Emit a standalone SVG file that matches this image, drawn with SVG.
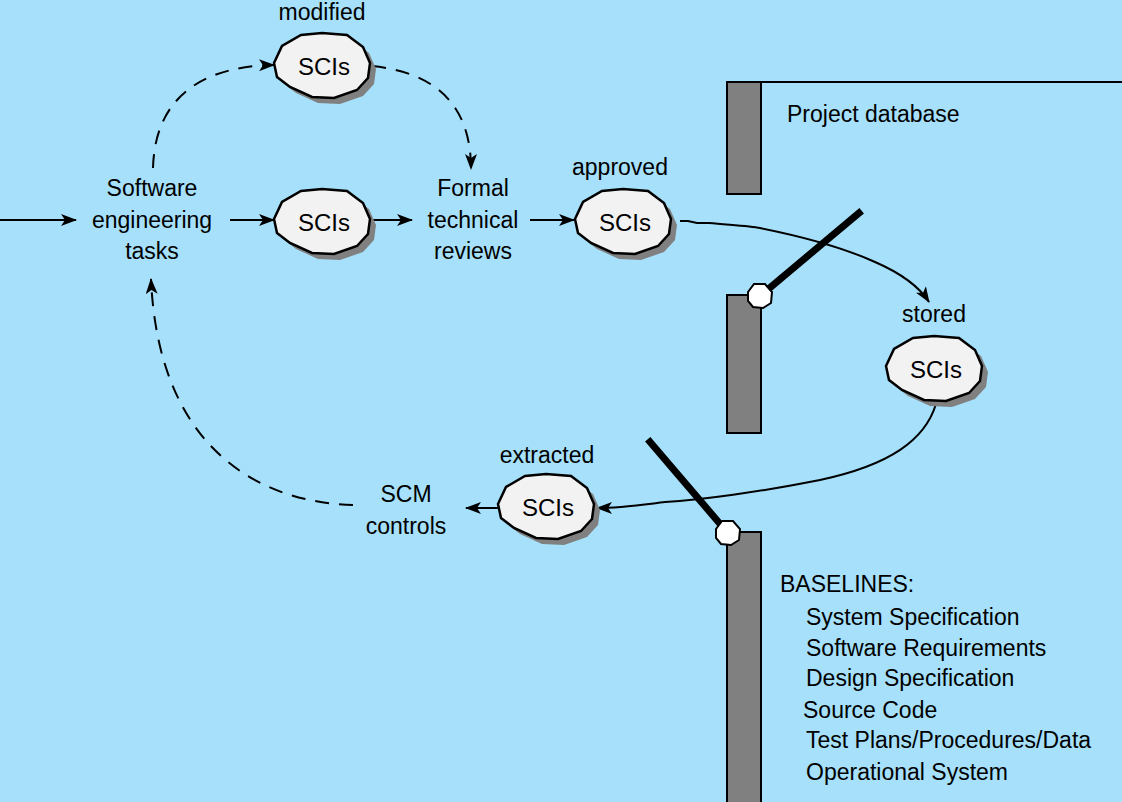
<svg xmlns="http://www.w3.org/2000/svg" xmlns:xlink="http://www.w3.org/1999/xlink" width="1122" height="802" viewBox="0 0 1122 802">
<style>
text{font-family:"Liberation Sans",Arial,sans-serif;font-size:23px;fill:#000}
.c{text-anchor:middle}
.s{font-size:24px}
.ln{fill:none;stroke:#000;stroke-width:2}
.dash{fill:none;stroke:#000;stroke-width:2;stroke-dasharray:14,10}
.bar{fill:#808080;stroke:#000;stroke-width:2}
.shape{fill:#f2f2f2;stroke:#000;stroke-width:2.5}
.shadow{fill:#808080}
.lever{stroke:#000;stroke-width:7;stroke-linecap:square}
.knob{fill:#fff;stroke:#000;stroke-width:2}
</style>
<defs>
<marker id="ah" markerUnits="userSpaceOnUse" markerWidth="16" markerHeight="12" refX="15" refY="6" orient="auto">
<path d="M0,0 L16,6 L0,12 L4,6 Z" fill="#000"/>
</marker>
<path id="oct" d="M -48,-3 L -40,-20 L -21,-31 L 0,-33 L 25,-31 L 41,-19 L 48,-3 L 46,12 L 35,24 L 12,32 L -10,31 L -32,21 L -45,11 Z"/>
<polygon id="hex" points="-12,-4 -6,-12 5,-12 12,-4 11,7 3,12 -7,11 -12,5"/>
</defs>
<rect width="1122" height="802" fill="#a6e0fb"/>

<g id="database">
<line x1="760" y1="82" x2="1122" y2="82" class="ln"/>
<rect x="727" y="82" width="34" height="112" class="bar"/>
<rect x="727" y="295" width="34" height="138" class="bar"/>
<rect x="727" y="532" width="34" height="280" class="bar"/>
<text x="787" y="122">Project database</text>
</g>

<g id="connectors">
<line x1="0" y1="220" x2="76" y2="220" class="ln" marker-end="url(#ah)"/>
<line x1="230" y1="220" x2="274" y2="220" class="ln" marker-end="url(#ah)"/>
<line x1="371" y1="220" x2="412" y2="220" class="ln" marker-end="url(#ah)"/>
<line x1="530" y1="220" x2="574" y2="220" class="ln" marker-end="url(#ah)"/>
<line x1="498" y1="508" x2="466" y2="508" class="ln" marker-end="url(#ah)"/>
<path d="M 680 221 L 688 221 L 697 223 L 709 223 C 730 225, 750 226, 760 228 C 800 236, 840 246, 875 262 C 905 275, 920 288, 929 302" class="ln" marker-end="url(#ah)"/>
<path d="M 936 404 C 925 440, 890 465, 820 480 C 760 492, 700 500, 665 502 C 640 505, 620 508, 597 508" class="ln" marker-end="url(#ah)"/>
<path d="M 153 168 C 155 95, 205 66, 274 65" class="dash" marker-end="url(#ah)"/>
<path d="M 372 66 C 430 72, 471 100, 471 169" class="dash" marker-end="url(#ah)"/>
<path d="M 353 505 C 250 502, 158 440, 151 279" class="dash" marker-end="url(#ah)"/>
</g>

<g id="gate-upper">
<line x1="760" y1="296" x2="859" y2="213" class="lever"/>
<use xlink:href="#hex" transform="translate(760,296)" class="knob"/>
</g>
<g id="gate-lower">
<line x1="727" y1="532" x2="650" y2="442" class="lever"/>
<use xlink:href="#hex" transform="translate(728,533)" class="knob"/>
</g>

<g id="sw-tasks">
<text x="152" y="196" class="c">Software</text>
<text x="152" y="228" class="c">engineering</text>
<text x="152" y="259" class="c">tasks</text>
</g>
<g id="ftr">
<text x="473" y="196" class="c">Formal</text>
<text x="473" y="228" class="c">technical</text>
<text x="473" y="259" class="c">reviews</text>
</g>
<g id="scm">
<text x="406" y="502" class="c">SCM</text>
<text x="406" y="534" class="c">controls</text>
</g>

<g id="sci-modified">
<use xlink:href="#oct" transform="translate(328,72)" class="shadow"/>
<use xlink:href="#oct" transform="translate(322,66)" class="shape"/>
<text x="324" y="75" class="c s">SCIs</text>
<text x="322" y="20" class="c">modified</text>
</g>
<g id="sci-mid">
<use xlink:href="#oct" transform="translate(328,228)" class="shadow"/>
<use xlink:href="#oct" transform="translate(322,222)" class="shape"/>
<text x="324" y="231" class="c s">SCIs</text>
</g>
<g id="sci-approved">
<use xlink:href="#oct" transform="translate(629,228)" class="shadow"/>
<use xlink:href="#oct" transform="translate(623,222)" class="shape"/>
<text x="625" y="231" class="c s">SCIs</text>
<text x="620" y="175" class="c">approved</text>
</g>
<g id="sci-stored">
<use xlink:href="#oct" transform="translate(940,375)" class="shadow"/>
<use xlink:href="#oct" transform="translate(934,369)" class="shape"/>
<text x="936" y="378" class="c s">SCIs</text>
<text x="934" y="322" class="c">stored</text>
</g>
<g id="sci-extracted">
<use xlink:href="#oct" transform="translate(552,513)" class="shadow"/>
<use xlink:href="#oct" transform="translate(546,507)" class="shape"/>
<text x="548" y="516" class="c s">SCIs</text>
<text x="547" y="463" class="c">extracted</text>
</g>

<g id="baselines">
<text x="780" y="592">BASELINES:</text>
<text x="806" y="625">System Specification</text>
<text x="806" y="656">Software Requirements</text>
<text x="806" y="686">Design Specification</text>
<text x="803" y="718">Source Code</text>
<text x="806" y="748">Test Plans/Procedures/Data</text>
<text x="806" y="780">Operational System</text>
</g>
</svg>
